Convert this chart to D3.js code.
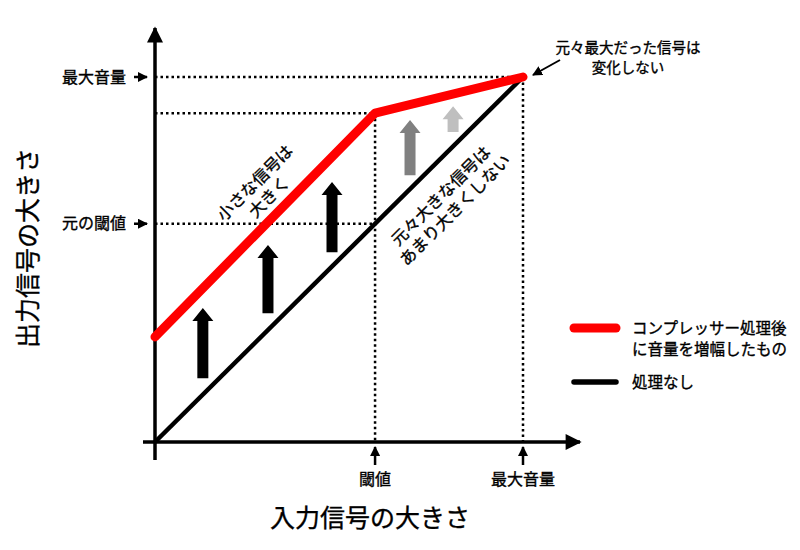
<!DOCTYPE html>
<html><head><meta charset="utf-8">
<script src="https://cdn.jsdelivr.net/npm/d3@7"></script>
<style>
body{margin:0;background:#fff;}
text{font-family:"Noto Sans CJK JP","Noto Sans",sans-serif;fill:#000;stroke:#000;stroke-width:0.35px;}
</style></head>
<body><svg id="c" width="800" height="550"></svg>
<script>
// ---- data (input / output level, 0 = silence, 1 = max volume) ----
const threshold = 0.598;
const compressedX = [0, threshold, 1];
const compressedY = [0.288, 0.901, 1];
const uncompressedX = [0, 1];
const uncompressedY = [0, 1];
const refLevelLabels = ["最大音量", "元の閾値"];   // y-side
const xTickLabels = ["閾値", "最大音量"];
const gainArrowX =    [0.13, 0.307, 0.481, 0.693, 0.81];
const gainArrowFrom = [0.175, 0.353, 0.52, 0.731, 0.849];
const gainArrowTo =   [0.367, 0.54, 0.712, 0.882, 0.92];
const gainArrowShade = ["#000", "#000", "#000", "#808080", "#bfbfbf"];
const legendLabels = [["コンプレッサー処理後", "に音量を増幅したもの"], ["処理なし"]];

const svg = d3.select("#c");
const x = d3.scaleLinear().domain([0, 1]).range([155, 523]);
const y = d3.scaleLinear().domain([0, 1]).range([442, 77]);

const defs = svg.append("defs");
defs.append("marker").attr("id","ah").attr("viewBox","0 0 10 10").attr("refX",9).attr("refY",5)
  .attr("markerWidth",10).attr("markerHeight",10).attr("markerUnits","userSpaceOnUse").attr("orient","auto")
  .append("path").attr("d","M0,0L10,5L0,10Z").attr("fill","#000");
defs.append("marker").attr("id","axh").attr("viewBox","0 0 10 10").attr("refX",9).attr("refY",5)
  .attr("markerWidth",18).attr("markerHeight",16).attr("markerUnits","userSpaceOnUse").attr("orient","auto")
  .append("path").attr("d","M0,0L10,5L0,10Z").attr("fill","#000");

// dotted guides
const dot = {stroke:"#000","stroke-width":2.5,"stroke-dasharray":"2.5,3"};
function dline(x1,y1,x2,y2){const l=svg.append("line").attr("x1",x1).attr("y1",y1).attr("x2",x2).attr("y2",y2);
  Object.entries(dot).forEach(([k,v])=>l.attr(k,v));}
dline(x(0), y(1), x(1), y(1));
dline(x(0), y(compressedY[1]), x(threshold), y(compressedY[1]));
dline(x(0), y(threshold), x(threshold), y(threshold));
dline(x(threshold), y(compressedY[1]), x(threshold), y(0));
dline(x(1), y(1), x(1), y(0));

// axes
svg.append("line").attr("x1",x(0)).attr("y1",460).attr("x2",x(0)).attr("y2",28)
  .attr("stroke","#000").attr("stroke-width",3.5).attr("marker-end","url(#axh)");
svg.append("line").attr("x1",143).attr("y1",y(0)).attr("x2",x(1.155)).attr("y2",y(0))
  .attr("stroke","#000").attr("stroke-width",3.5).attr("marker-end","url(#axh)");

// lines
const line = d3.line().x(d=>x(d[0])).y(d=>y(d[1]));
svg.append("path").datum(d3.zip(uncompressedX, uncompressedY)).attr("d",line)
  .attr("fill","none").attr("stroke","#000").attr("stroke-width",4.5);
svg.append("path").datum(d3.zip(compressedX, compressedY)).attr("d",line)
  .attr("fill","none").attr("stroke","#ff0000").attr("stroke-width",9)
  .attr("stroke-linejoin","round").attr("stroke-linecap","round");

// gain arrows
gainArrowX.forEach((gx,i)=>{
  const cx=x(gx), yb=y(gainArrowFrom[i]), yt=y(gainArrowTo[i]);
  const sw=5.5, hw=10.5, hh=13;
  svg.append("path").attr("fill",gainArrowShade[i])
    .attr("d",`M${cx-sw},${yb}L${cx-sw},${yt+hh}L${cx-hw},${yt+hh}L${cx},${yt}L${cx+hw},${yt+hh}L${cx+sw},${yt+hh}L${cx+sw},${yb}Z`);
});

// y-side labels with arrows
[1, threshold].forEach((v,i)=>{
  svg.append("text").attr("x",126).attr("y",y(v)).attr("dy","0.35em").attr("text-anchor","end")
    .attr("font-size",16).text(refLevelLabels[i]);
  svg.append("line").attr("x1",134).attr("y1",y(v)).attr("x2",147).attr("y2",y(v))
    .attr("stroke","#000").attr("stroke-width",2.5).attr("marker-end","url(#ah)");
});
// x-side labels with arrows
[threshold, 1].forEach((v,i)=>{
  svg.append("line").attr("x1",x(v)).attr("y1",465).attr("x2",x(v)).attr("y2",447)
    .attr("stroke","#000").attr("stroke-width",2.5).attr("marker-end","url(#ah)");
  svg.append("text").attr("x",x(v)).attr("y",479).attr("dy","0.35em").attr("text-anchor","middle")
    .attr("font-size",16).text(xTickLabels[i]);
});

// axis titles
svg.append("text").attr("x",370).attr("y",518).attr("dy","0.35em").attr("text-anchor","middle")
  .attr("font-size",25).text("入力信号の大きさ");
svg.append("text").attr("transform","translate(28,248) rotate(-90)").attr("dy","0.35em")
  .attr("text-anchor","middle").attr("font-size",25).text("出力信号の大きさ");

// rotated annotations
function rotText(cx,cy,ang,lines,fs,lh){
  const g=svg.append("g").attr("transform",`translate(${cx},${cy}) rotate(${ang})`);
  lines.forEach((t,i)=>g.append("text").attr("x",0).attr("y",(i-(lines.length-1)/2)*lh).attr("dy","0.35em")
    .attr("text-anchor","middle").attr("font-size",fs).text(t));
}
rotText(262,190,-45,["小さな信号は","大きく"],16.5,20);
rotText(448,203,-45,["元々大きな信号は","あまり大きくしない"],16.5,20);

// top-right note
svg.append("text").attr("x",628).attr("y",48).attr("dy","0.35em").attr("text-anchor","middle")
  .attr("font-size",14.5).text("元々最大だった信号は");
svg.append("text").attr("x",628).attr("y",68).attr("dy","0.35em").attr("text-anchor","middle")
  .attr("font-size",14.5).text("変化しない");
svg.append("line").attr("x1",560).attr("y1",60).attr("x2",533).attr("y2",75)
  .attr("stroke","#000").attr("stroke-width",2).attr("marker-end","url(#ah)");

// legend
const legColors=["#ff0000","#000"], legW=[9,5.5], legY=[328,382];
legendLabels.forEach((lab,i)=>{
  svg.append("line").attr("x1",574).attr("y1",legY[i]).attr("x2",616).attr("y2",legY[i])
    .attr("stroke",legColors[i]).attr("stroke-width",legW[i]).attr("stroke-linecap","round");
  lab.forEach((t,j)=>svg.append("text").attr("x",632).attr("y",legY[i]+1+j*21).attr("dy","0.35em")
    .attr("font-size",15.5).text(t));
});
</script></body></html>
